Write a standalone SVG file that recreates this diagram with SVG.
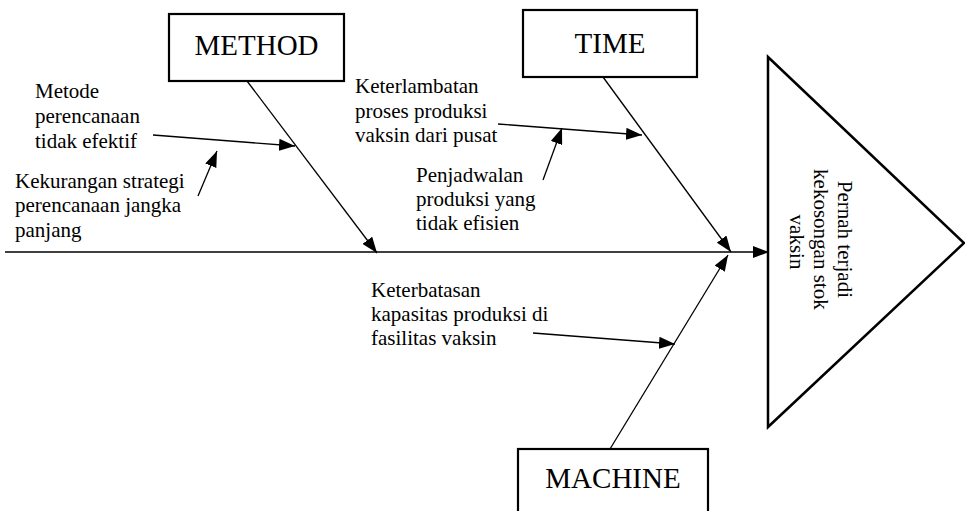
<svg xmlns="http://www.w3.org/2000/svg" width="965" height="511" viewBox="0 0 965 511">
<style>
  .box{fill:#fff;stroke:#000;stroke-width:2.2}
  .line{fill:none;stroke:#000;stroke-width:1.3;marker-end:url(#ah)}
  .t{font-family:"Liberation Serif","Times New Roman",serif;font-size:21px;fill:#000}
  .big{font-family:"Liberation Serif","Times New Roman",serif;font-size:29px;fill:#000;text-anchor:middle}
</style>
<defs>
  <marker id="ah" markerUnits="userSpaceOnUse" markerWidth="16" markerHeight="12" refX="16" refY="6" orient="auto">
    <path d="M0,0 L16,6 L0,12 z" fill="#000"/>
  </marker>
</defs>
<rect width="965" height="511" fill="#fff"/>
<g id="connectors">
  <line class="line" x1="5" y1="252" x2="769" y2="252"/>
  <line class="line" x1="247" y1="81" x2="377" y2="253"/>
  <line class="line" x1="603" y1="77" x2="731" y2="252"/>
  <line class="line" x1="610" y1="449" x2="728" y2="255"/>
  <line class="line" x1="153" y1="135" x2="295" y2="146"/>
  <line class="line" x1="198" y1="196" x2="217" y2="151"/>
  <line class="line" x1="498" y1="124" x2="642" y2="135"/>
  <line class="line" x1="543" y1="180" x2="562" y2="128"/>
  <line class="line" x1="533" y1="333" x2="675" y2="344"/>
</g>
<g id="method">
  <rect class="box" x="169" y="14" width="175" height="67"/>
  <text class="big" x="256.5" y="55">METHOD</text>
</g>
<g id="time">
  <rect class="box" x="523" y="10" width="174" height="67"/>
  <text class="big" x="610" y="53">TIME</text>
</g>
<g id="machine">
  <rect class="box" x="518" y="449" width="190" height="80"/>
  <text class="big" x="613" y="488">MACHINE</text>
</g>
<g id="effect">
  <polygon points="768,57 964,243 768,427" fill="#fff" stroke="#000" stroke-width="2.5"/>
  <text class="t" text-anchor="middle" transform="translate(838,242) rotate(90)">
    <tspan x="0" y="0">Pernah terjadi</tspan>
    <tspan x="0" y="24">kekosongan stok</tspan>
    <tspan x="0" y="48">vaksin</tspan>
  </text>
</g>
<g id="cause-metode">
  <text class="t"><tspan x="35" y="98">Metode</tspan><tspan x="35" y="123">perencanaan</tspan><tspan x="35" y="148">tidak efektif</tspan></text>
</g>
<g id="cause-kekurangan">
  <text class="t"><tspan x="15" y="188">Kekurangan strategi</tspan><tspan x="15" y="212">perencanaan jangka</tspan><tspan x="15" y="237">panjang</tspan></text>
</g>
<g id="cause-keterlambatan">
  <text class="t"><tspan x="355" y="93">Keterlambatan</tspan><tspan x="355" y="118">proses produksi</tspan><tspan x="355" y="142">vaksin dari pusat</tspan></text>
</g>
<g id="cause-penjadwalan">
  <text class="t"><tspan x="416" y="182">Penjadwalan</tspan><tspan x="416" y="206">produksi yang</tspan><tspan x="416" y="230">tidak efisien</tspan></text>
</g>
<g id="cause-keterbatasan">
  <text class="t"><tspan x="371" y="297">Keterbatasan</tspan><tspan x="371" y="321">kapasitas produksi di</tspan><tspan x="371" y="345">fasilitas vaksin</tspan></text>
</g>
</svg>
